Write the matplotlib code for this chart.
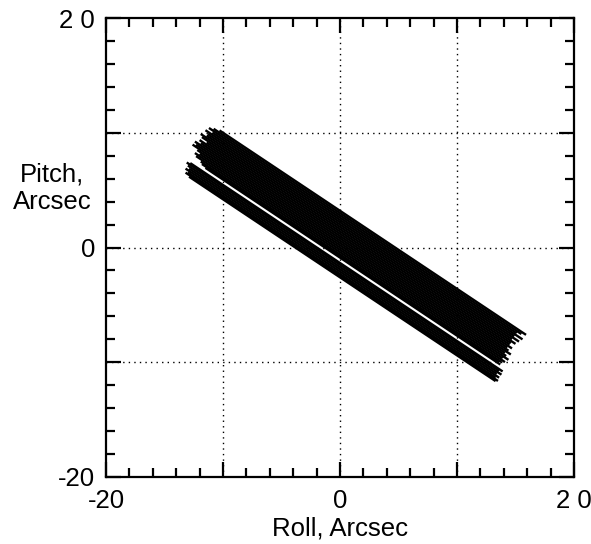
import matplotlib
matplotlib.use("Agg")
import matplotlib.pyplot as plt
from matplotlib.ticker import MultipleLocator, FixedLocator
import numpy as np

plt.rcParams['font.family'] = ['Liberation Sans', 'DejaVu Sans']

# Roll/pitch trace segments: pitch at zero roll,
# roll where each trace starts and ends, and the common pitch/roll drift slope
pitch_at_zero_roll = [3.2, 3.0, 2.8, 2.6, 2.4, 2.2, 2.0, 1.8, 1.6, 1.4, 1.2,
                      1.0, 0.8, 0.6, 0.4, 0.2, 0.0, -0.2, -0.4, -0.6, -0.75,
                      -0.88,
                      -1.35, -1.5, -1.7, -1.9, -2.1, -2.3, -2.45, -2.6]
roll_start = [-10.3, -10.8, -11.2, -10.9, -11.5, -11.3, -11.4, -11.9, -11.8,
              -11.4, -12.0, -11.9, -12.4, -12.3, -12.6, -12.2, -12.0, -12.4,
              -12.3, -11.9, -11.8, -11.5,
              -12.8, -13.1, -13.0, -12.9, -13.2, -13.0, -13.2, -12.9]
roll_end = [15.9, 15.5, 15.1, 15.6, 14.9, 15.3, 14.7, 15.0, 14.6, 14.5, 14.7,
            14.3, 14.4, 14.6, 14.1, 14.2, 14.4, 13.9, 14.1, 13.8, 13.6, 13.7,
            13.9, 13.6, 13.8, 13.4, 13.6, 13.3, 13.5, 13.3]
drift_slope = -0.68

x_ticks = [-20, -10, 0, 10, 20]
x_ticklabels = ['-20', '', '0', '', '2 0']
y_ticks = [-20, -10, 0, 10, 20]
y_ticklabels = ['-20', '', '0', '', '2 0']

fig = plt.figure(figsize=(5.91, 5.44), dpi=100)
ax = fig.add_axes([106/591, 67/544, 468/591, 459/544])

for b, x0, x1 in zip(pitch_at_zero_roll, roll_start, roll_end):
    xs = np.array([x0, x1])
    ax.plot(xs, b + drift_slope * xs, color='black', lw=1.7,
            solid_capstyle='butt')

ax.set_xlim(-20, 20)
ax.set_ylim(-20, 20)

# dotted grid
for v in [-10, 0, 10]:
    ax.axvline(v, color='black', lw=1.0, ls=(0, (1, 3)), zorder=0)
    ax.axhline(v, color='black', lw=1.0, ls=(0, (1, 3)), zorder=0)

ax.set_xticks(x_ticks)
ax.set_xticklabels(x_ticklabels)
ax.set_yticks(y_ticks)
ax.set_yticklabels(y_ticklabels)
ax.xaxis.set_minor_locator(MultipleLocator(2))
ax.yaxis.set_minor_locator(MultipleLocator(2))

ax.tick_params(which='both', direction='in', top=True, right=True,
               width=1.6, colors='black', labelsize=18.5)
ax.tick_params(which='major', length=11)
ax.tick_params(which='minor', length=6.5)
ax.tick_params(axis='x', which='major', pad=9)
ax.tick_params(axis='y', which='major', pad=8)

for s in ax.spines.values():
    s.set_linewidth(1.6)

ax.set_xlabel('Roll, Arcsec', fontsize=18.5, labelpad=2)
fig.text(52/591, 1 - 188/544, 'Pitch,\nArcsec', fontsize=18.5,
         ha='center', va='center', multialignment='center')

fig.savefig('out.png', dpi=100)
